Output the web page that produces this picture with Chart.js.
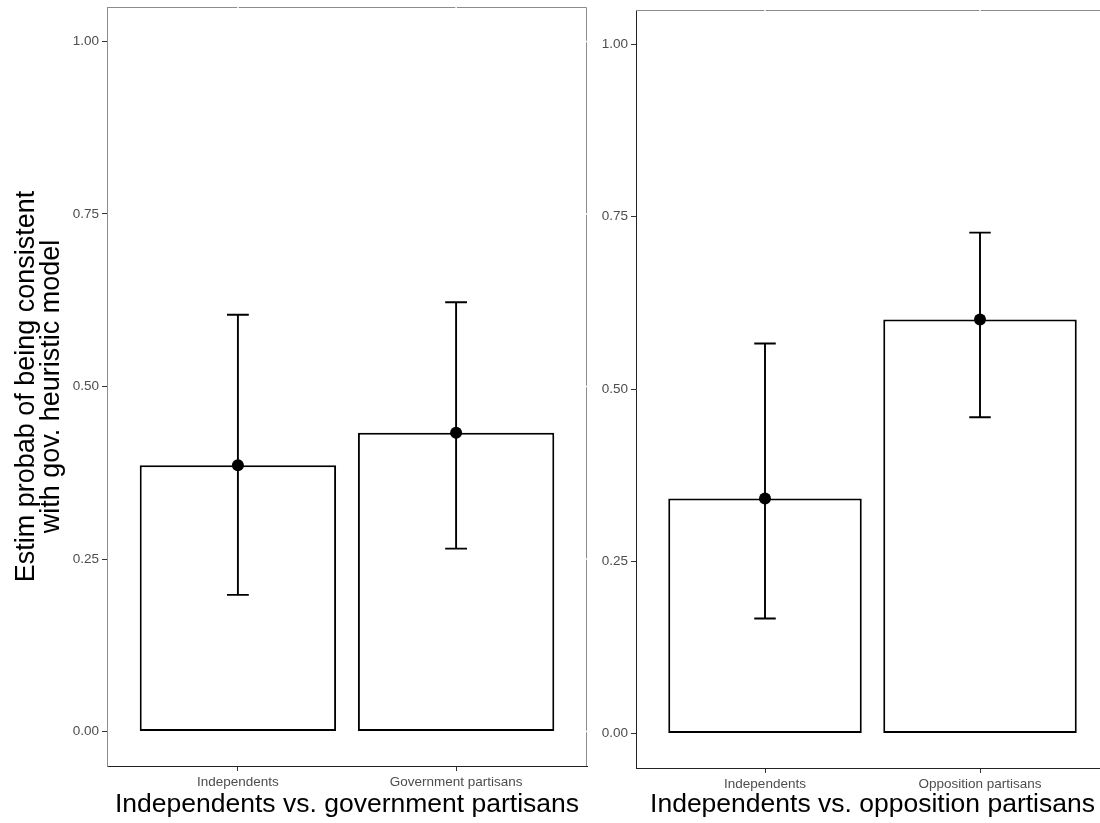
<!DOCTYPE html>
<html>
<head>
<meta charset="utf-8">
<script src="https://cdn.jsdelivr.net/npm/chart.js"></script>
<style>
  html, body { margin: 0; padding: 0; background: #fff; overflow: hidden; }
  #wrap { position: relative; width: 1100px; height: 823px; overflow: hidden; }
  canvas { position: absolute; top: 0; }
  #left-panel { left: 0; }
  #right-panel { left: 590px; }
</style>
</head>
<body>
<div id="wrap">
  <canvas id="left-panel" width="600" height="823"></canvas>
  <canvas id="right-panel" width="525" height="823"></canvas>
</div>
<script>
// === Dati ===
const yTickValues = [0, 0.25, 0.5, 0.75, 1];
const yTitle = ['Estim probab of being consistent', 'with gov. heuristic model'];

const leftCategories = ['Independents', 'Government partisans'];
const leftEstimate = [0.386, 0.433];
const leftLower = [0.198, 0.265];
const leftUpper = [0.604, 0.622];
const leftTitle = 'Independents vs. government partisans';

const rightCategories = ['Independents', 'Opposition partisans'];
const rightEstimate = [0.341, 0.601];
const rightLower = [0.167, 0.459];
const rightUpper = [0.566, 0.727];
const rightTitle = 'Independents vs. opposition partisans';

const FONT = "'Liberation Sans', Arial, sans-serif";

// barre di errore disegnate subito dopo le barre (sotto i punti)
const errorBars = {
  id: 'errorBars',
  afterDatasetDraw(chart, args, opts) {
    if (args.meta.type !== 'bar') return;
    const { ctx, scales: { x, y } } = chart;
    const half = x.getPixelForValue(1 + opts.capWidth / 2) - x.getPixelForValue(1);
    ctx.save();
    ctx.strokeStyle = '#000';
    ctx.lineWidth = 1.9;
    opts.lower.forEach((lo, i) => {
      const px = x.getPixelForValue(i + 1);
      const yl = y.getPixelForValue(lo);
      const yh = y.getPixelForValue(opts.upper[i]);
      ctx.beginPath();
      ctx.moveTo(px, yl); ctx.lineTo(px, yh);
      ctx.moveTo(px - half, yl); ctx.lineTo(px + half, yl);
      ctx.moveTo(px - half, yh); ctx.lineTo(px + half, yh);
      ctx.stroke();
    });
    ctx.restore();
  }
};

// bordo grigio sopra e a destra, con le piccole interruzioni bianche
const panelFrame = {
  id: 'panelFrame',
  beforeDatasetsDraw(chart) {
    const { ctx, chartArea: a, scales: { x, y } } = chart;
    ctx.save();
    ctx.strokeStyle = '#8c8c8c';
    ctx.lineWidth = 1;
    ctx.beginPath();
    ctx.moveTo(a.left, a.top + 0.5);
    ctx.lineTo(a.right - 0.5, a.top + 0.5);
    ctx.lineTo(a.right - 0.5, a.bottom);
    ctx.stroke();
    ctx.strokeStyle = '#fff';
    ctx.lineWidth = 1.5;
    x.ticks.forEach(t => {
      const px = x.getPixelForValue(t.value);
      ctx.beginPath(); ctx.moveTo(px, a.top - 1); ctx.lineTo(px, a.top + 2); ctx.stroke();
    });
    y.ticks.forEach(t => {
      const py = y.getPixelForValue(t.value);
      ctx.beginPath(); ctx.moveTo(a.right - 2, py); ctx.lineTo(a.right + 1, py); ctx.stroke();
    });
    ctx.restore();
  }
};

function makePanel(canvasId, cfg) {
  const ctx = document.getElementById(canvasId).getContext('2d');
  const xs = cfg.categories.map((_, i) => i + 1);
  return new Chart(ctx, {
    type: 'bar',
    data: {
      datasets: [
        {
          type: 'scatter',
          order: 0,
          data: xs.map((x, i) => ({ x, y: cfg.estimate[i] })),
          pointRadius: 6,
          pointBackgroundColor: '#000',
          pointBorderWidth: 0
        },
        {
          type: 'bar',
          order: 1,
          data: xs.map((x, i) => ({ x, y: cfg.estimate[i] })),
          backgroundColor: '#fff',
          borderColor: '#000',
          borderWidth: 2,
          borderSkipped: false,
          categoryPercentage: 0.9,
          barPercentage: 1.0
        }
      ]
    },
    options: {
      responsive: false,
      animation: false,
      events: [],
      layout: { padding: cfg.padding },
      plugins: {
        legend: { display: false },
        tooltip: { enabled: false },
        errorBars: { lower: cfg.lower, upper: cfg.upper, capWidth: 0.1 }
      },
      scales: {
        x: {
          type: 'linear',
          min: 0.4,
          max: 2.6,
          offset: false,
          afterBuildTicks: axis => { axis.ticks = xs.map(v => ({ value: v })); },
          afterFit: axis => {
            axis.height = cfg.xAxisHeight;
            axis.paddingLeft = 0; axis.paddingRight = 0;
          },
          ticks: {
            autoSkip: false,
            padding: 3,
            color: '#4d4d4d',
            font: { family: FONT, size: 13.5 },
            callback: v => cfg.categories[v - 1]
          },
          grid: { drawOnChartArea: false, offset: false, tickLength: 5, tickColor: '#333' },
          border: { display: true, color: '#222', width: 1 },
          title: {
            display: true,
            text: cfg.title,
            color: '#000',
            font: { family: FONT, size: 26.5, lineHeight: 1.2 },
            padding: { top: 0, bottom: 2 }
          }
        },
        y: {
          min: -0.05,
          max: 1.05,
          afterBuildTicks: axis => { axis.ticks = yTickValues.map(v => ({ value: v })); },
          afterFit: axis => {
            axis.width = cfg.yAxisWidth;
            axis.paddingTop = 0; axis.paddingBottom = 0;
          },
          ticks: {
            padding: 3,
            color: '#4d4d4d',
            font: { family: FONT, size: 13.5 },
            callback: v => v.toFixed(2)
          },
          grid: { drawOnChartArea: false, tickLength: 5, tickColor: '#333' },
          border: { display: true, color: cfg.yLineColor, width: 1 },
          title: {
            display: cfg.showYTitle,
            text: yTitle,
            color: '#000',
            font: { family: FONT, size: 27, lineHeight: 0.93 },
            padding: { top: 14, bottom: 0 }
          }
        }
      }
    },
    plugins: [panelFrame, errorBars]
  });
}

makePanel('left-panel', {
  categories: leftCategories,
  estimate: leftEstimate,
  lower: leftLower,
  upper: leftUpper,
  title: leftTitle,
  padding: { top: 7, right: 13, bottom: 0, left: 0 },
  xAxisHeight: 57,
  yAxisWidth: 107,
  yLineColor: '#8c8c8c',
  showYTitle: true
});

makePanel('right-panel', {
  categories: rightCategories,
  estimate: rightEstimate,
  lower: rightLower,
  upper: rightUpper,
  title: rightTitle,
  padding: { top: 10, right: 4, bottom: 0, left: 0 },
  xAxisHeight: 55,
  yAxisWidth: 46,
  yLineColor: '#222',
  showYTitle: false
});
</script>
</body>
</html>
